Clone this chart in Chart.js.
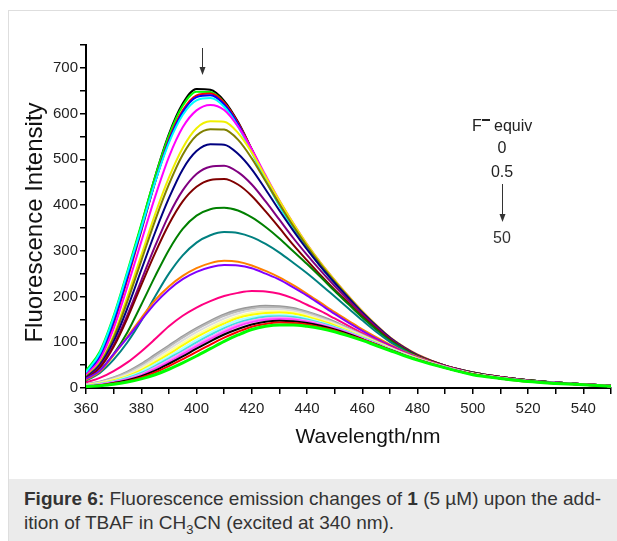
<!DOCTYPE html>
<html>
<head>
<meta charset="utf-8">
<script src="https://cdn.jsdelivr.net/npm/chart.js@4.4.1/dist/chart.umd.min.js"></script>
<style>
  html, body { margin: 0; padding: 0; background: #fff; }
  body { width: 617px; height: 541px; position: relative; overflow: hidden; font-family: "Liberation Sans", Arial, sans-serif; }
  #frame { position: absolute; left: 8px; top: 10px; width: 640px; height: 560px; border: 1px solid #dedede; }
  #wrap { position: absolute; left: 0; top: 0; width: 617px; height: 478px; }
  #caption { position: absolute; left: 9px; top: 479px; width: 608px; height: 62px; background: #ebebeb; color: #333;
    font-size: 19px; line-height: 24px; padding: 8px 0 0 15px; box-sizing: border-box; white-space: nowrap; }
  #caption sub { font-size: 13px; line-height: 0; }
</style>
</head>
<body>
<div id="frame"></div>
<div id="wrap"><canvas id="fluorescence-chart"></canvas></div>
<div id="caption"><b>Figure 6:</b> Fluorescence emission changes of <b>1</b> (5 µM) upon the add-<br>ition of TBAF in CH<sub>3</sub>CN (excited at 340 nm).</div>
<script>
// Emission wavelengths (nm) shared by all spectra
const wavelengths = [360, 365, 370, 375, 380, 385, 390, 395, 400, 405, 410, 415, 420, 425, 430, 435,
    440, 445, 450, 455, 460, 465, 470, 475, 480, 490, 500, 510, 520, 530, 540, 550];

// One spectrum per TBAF addition, from 0 equiv (top) to 50 equiv (bottom)
const spectrum01 = [30, 72, 150, 250, 355, 462, 555, 622, 654, 652, 628, 582, 522, 460, 402, 352, 308, 268, 232, 198, 166, 136, 110, 89, 72, 49, 34, 24, 17, 12, 8, 5];
const spectrum02 = [38, 80, 158, 256, 358, 462, 552, 617, 648, 647, 624, 578, 518, 457, 400, 350, 306, 266, 230, 196, 164, 135, 109, 88, 71, 48, 33, 24, 17, 12, 8, 5];
const spectrum03 = [28, 66, 140, 238, 343, 450, 543, 607, 640, 644, 624, 580, 521, 460, 402, 352, 308, 268, 232, 198, 166, 136, 110, 89, 72, 49, 34, 24, 17, 12, 8, 5];
const spectrum04 = [30, 70, 146, 244, 346, 450, 540, 603, 636, 640, 620, 577, 518, 458, 400, 350, 306, 266, 230, 196, 164, 135, 109, 88, 71, 48, 33, 24, 17, 12, 8, 5];
const spectrum05 = [34, 76, 155, 252, 350, 450, 536, 597, 629, 634, 615, 572, 515, 455, 398, 349, 305, 265, 229, 196, 164, 134, 109, 88, 71, 48, 33, 24, 17, 12, 8, 5];
const spectrum06 = [28, 62, 130, 222, 320, 418, 505, 570, 607, 619, 608, 572, 522, 465, 410, 360, 314, 273, 236, 201, 168, 138, 111, 90, 73, 49, 34, 24, 17, 12, 8, 5];
const spectrum07 = [25, 55, 115, 200, 290, 380, 460, 525, 568, 583, 582, 558, 515, 462, 410, 360, 314, 273, 236, 201, 168, 138, 111, 90, 73, 49, 34, 24, 17, 12, 8, 5];
const spectrum08 = [24, 53, 110, 190, 278, 366, 445, 510, 552, 566, 565, 543, 502, 452, 402, 354, 310, 270, 233, 199, 166, 137, 110, 89, 72, 49, 34, 24, 17, 12, 8, 5];
const spectrum09 = [22, 50, 102, 175, 258, 340, 415, 478, 518, 533, 532, 512, 478, 434, 388, 344, 303, 265, 230, 197, 165, 136, 110, 89, 72, 49, 34, 24, 17, 12, 8, 5];
const spectrum10 = [20, 46, 94, 160, 235, 310, 378, 432, 468, 484, 486, 472, 445, 408, 368, 328, 291, 256, 223, 192, 162, 134, 108, 88, 71, 48, 33, 24, 17, 12, 8, 5];
const spectrum11 = [20, 44, 90, 153, 225, 295, 358, 408, 440, 455, 457, 445, 420, 386, 350, 313, 279, 246, 215, 186, 157, 130, 106, 86, 70, 48, 33, 24, 17, 12, 8, 5];
const spectrum12 = [18, 38, 74, 122, 182, 244, 302, 348, 377, 391, 394, 388, 373, 352, 327, 299, 271, 242, 212, 183, 154, 128, 104, 85, 69, 47, 33, 23, 17, 12, 8, 5];
const spectrum13 = [16, 33, 62, 100, 147, 200, 250, 290, 318, 334, 341, 339, 330, 315, 296, 274, 251, 226, 200, 174, 148, 123, 101, 83, 68, 47, 32, 23, 16, 12, 8, 5];
const spectrum14 = [18, 36, 72, 112, 153, 192, 222, 245, 262, 273, 278, 276, 268, 256, 242, 225, 206, 186, 166, 147, 128, 111, 95, 80, 68, 47, 32, 23, 16, 12, 8, 5];
const spectrum15 = [20, 38, 74, 110, 148, 185, 215, 238, 254, 264, 269, 268, 262, 250, 237, 220, 202, 182, 162, 143, 125, 108, 93, 79, 67, 47, 32, 23, 16, 12, 8, 5];
const spectrum16 = [12, 22, 37, 56, 80, 107, 135, 158, 176, 190, 201, 208, 212, 211, 206, 196, 182, 168, 152, 136, 120, 105, 91, 78, 66, 47, 32, 23, 16, 11, 8, 5];
const spectrum17 = [8, 14, 23, 36, 53, 73, 93, 113, 131, 147, 161, 171, 177, 180, 179, 175, 167, 157, 145, 131, 117, 103, 89, 76, 65, 46, 31, 22, 15, 11, 7, 4];
const spectrum18 = [8, 13, 22, 34, 50, 70, 90, 110, 128, 144, 158, 168, 174, 177, 176, 172, 165, 155, 143, 130, 116, 102, 88, 76, 65, 46, 31, 22, 15, 11, 7, 4];
const spectrum19 = [7, 12, 20, 31, 46, 65, 85, 104, 122, 138, 152, 163, 170, 173, 172, 169, 162, 152, 141, 128, 115, 101, 88, 75, 64, 46, 31, 22, 15, 11, 7, 4];
const spectrum20 = [6, 11, 18, 28, 42, 60, 79, 98, 116, 132, 146, 157, 164, 168, 168, 165, 158, 149, 139, 126, 113, 100, 87, 75, 64, 45, 31, 22, 15, 11, 7, 4];
const spectrum21 = [6, 10, 17, 26, 39, 56, 74, 93, 111, 127, 141, 153, 160, 164, 165, 163, 156, 147, 137, 125, 112, 99, 86, 74, 64, 45, 31, 22, 15, 11, 7, 4];
const spectrum22 = [5, 9, 15, 24, 36, 52, 69, 87, 105, 121, 136, 148, 155, 159, 160, 158, 152, 144, 134, 123, 111, 98, 86, 74, 63, 45, 31, 22, 15, 11, 7, 4];
const spectrum23 = [5, 9, 14, 22, 33, 48, 65, 82, 100, 116, 131, 143, 151, 156, 157, 155, 150, 142, 133, 122, 110, 98, 85, 73, 63, 45, 30, 22, 15, 11, 7, 4];
const spectrum24 = [4, 8, 13, 20, 30, 45, 61, 78, 95, 111, 126, 139, 147, 152, 154, 152, 147, 140, 131, 121, 109, 97, 85, 73, 63, 45, 30, 22, 15, 11, 7, 4];
const spectrum25 = [4, 7, 12, 19, 28, 42, 57, 74, 91, 107, 122, 135, 144, 149, 151, 150, 145, 138, 130, 120, 108, 96, 84, 73, 62, 44, 30, 21, 15, 11, 7, 4];
const spectrum26 = [3, 6, 11, 17, 26, 38, 53, 69, 86, 102, 117, 129, 139, 145, 147, 146, 142, 136, 128, 118, 107, 95, 84, 72, 62, 44, 30, 21, 15, 11, 7, 4];
const spectrum27 = [3, 6, 10, 15, 23, 34, 48, 63, 79, 95, 110, 123, 134, 140, 143, 142, 139, 133, 126, 116, 106, 95, 83, 72, 62, 44, 30, 21, 14, 10, 7, 4];
const spectrum28 = [3, 5, 8, 13, 20, 29, 41, 55, 70, 86, 102, 116, 128, 135, 138, 138, 135, 130, 123, 114, 104, 93, 82, 71, 61, 44, 29, 21, 14, 10, 7, 4];

const spectra = [
    spectrum01, spectrum02, spectrum03, spectrum04, spectrum05, spectrum06, spectrum07,
    spectrum08, spectrum09, spectrum10, spectrum11, spectrum12, spectrum13, spectrum14,
    spectrum15, spectrum16, spectrum17, spectrum18, spectrum19, spectrum20, spectrum21,
    spectrum22, spectrum23, spectrum24, spectrum25, spectrum26, spectrum27, spectrum28
];

// Line colours, same order as the spectra
const spectrumColors = [
    '#000000', '#00ff00', '#ff0000', '#0000ff', '#00ffff', '#ff00ff', '#f0f000',
    '#808000', '#000080', '#800080', '#800000', '#008000', '#008080', '#ff8000',
    '#8000ff', '#ff0080', '#999999', '#b8b8b8', '#dddddd', '#ffff99', '#ffff00',
    '#aaffff', '#40e0e0', '#ff99ff', '#ff40ff', '#000000', '#ff0000', '#00ff00'
];

// Axis ticks
const xTickLabels = [360, 380, 400, 420, 440, 460, 480, 500, 520, 540];
const yTickLabels = [0, 100, 200, 300, 400, 500, 600, 700];

const FONT = '"Liberation Sans", Arial, sans-serif';

// Arrows, F- equiv labels and axis titles drawn on top of the plot
const annotationPlugin = {
    id: 'annotations',
    afterDraw(chart) {
        const { ctx } = chart;
        const xs = chart.scales.x;
        const ys = chart.scales.y;
        ctx.save();

        // down arrow above the maximum
        const ax = Math.round(xs.getPixelForValue(402)) + 0.5;
        drawArrow(ctx, ax, 48, 75);

        // titration legend
        ctx.fillStyle = '#222';
        ctx.font = '16px ' + FONT;
        ctx.textBaseline = 'alphabetic';
        ctx.textAlign = 'left';
        ctx.fillText('F', 472, 131);
        ctx.fillRect(482, 119, 8, 2);
        ctx.fillText('equiv', 494, 131);
        ctx.textAlign = 'center';
        ctx.fillText('0', 502, 153);
        ctx.fillText('0.5', 502, 177);
        drawArrow(ctx, 502.5, 184, 222);
        ctx.fillText('50', 502, 243);

        // axis titles
        ctx.fillStyle = '#111';
        ctx.font = '21px ' + FONT;
        ctx.textAlign = 'center';
        ctx.fillText('Wavelength/nm', 368, 443);
        ctx.font = '24px ' + FONT;
        ctx.translate(42, (ys.top + ys.bottom) / 2 + 6);
        ctx.rotate(-Math.PI / 2);
        ctx.fillText('Fluorescence Intensity', 0, 0);
        ctx.restore();
    }
};

function drawArrow(ctx, x, y1, y2) {
    ctx.strokeStyle = '#333';
    ctx.fillStyle = '#333';
    ctx.lineWidth = 1;
    ctx.beginPath();
    ctx.moveTo(x, y1);
    ctx.lineTo(x, y2 - 6);
    ctx.stroke();
    ctx.beginPath();
    ctx.moveTo(x - 3, y2 - 8);
    ctx.lineTo(x + 3, y2 - 8);
    ctx.lineTo(x, y2);
    ctx.closePath();
    ctx.fill();
}

const ctx = document.getElementById('fluorescence-chart').getContext('2d');
new Chart(ctx, {
    type: 'line',
    data: {
        datasets: spectra.map((values, i) => ({
            label: 'spectrum ' + (i + 1),
            data: values.map((v, j) => ({ x: wavelengths[j], y: v })),
            borderColor: spectrumColors[i],
            borderWidth: i === spectra.length - 1 ? 3 : 2,
            pointRadius: 0,
            fill: false,
            cubicInterpolationMode: 'monotone',
            order: spectra.length - i
        }))
    },
    options: {
        responsive: true,
        maintainAspectRatio: false,
        animation: false,
        layout: { padding: { left: 0, right: 6, top: 45, bottom: 57 } },
        plugins: {
            legend: { display: false },
            tooltip: { enabled: false }
        },
        scales: {
            x: {
                type: 'linear',
                min: 360,
                max: 550,
                afterFit: (scale) => { scale.height = 33; },
                border: { display: true, color: '#000', width: 2 },
                grid: { display: true, drawOnChartArea: false, drawTicks: true, tickLength: 6, color: '#000', lineWidth: 1.5 },
                ticks: {
                    stepSize: 10,
                    autoSkip: false,
                    maxRotation: 0,
                    padding: 6,
                    color: '#222',
                    font: { family: FONT, size: 15 },
                    callback: (v) => xTickLabels.includes(v) ? String(v) : ''
                }
            },
            y: {
                min: 0,
                max: 750,
                afterFit: (scale) => { scale.width = 86; },
                border: { display: true, color: '#000', width: 2 },
                grid: { display: true, drawOnChartArea: false, drawTicks: true, tickLength: 6, color: '#000', lineWidth: 1.5 },
                ticks: {
                    stepSize: 50,
                    autoSkip: false,
                    padding: 2,
                    color: '#222',
                    font: { family: FONT, size: 15 },
                    callback: (v) => yTickLabels.includes(v) ? String(v) : ''
                }
            }
        }
    },
    plugins: [annotationPlugin]
});
</script>
</body>
</html>
